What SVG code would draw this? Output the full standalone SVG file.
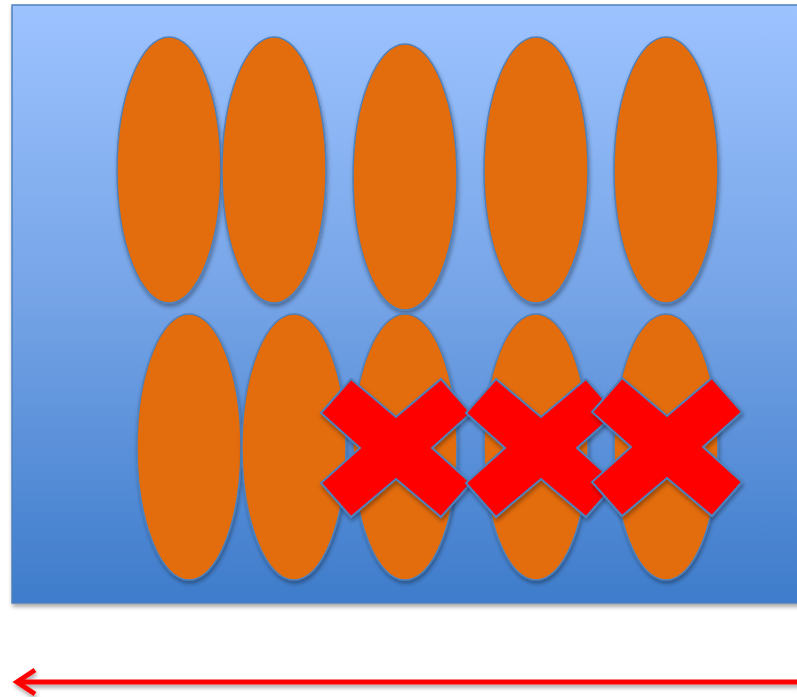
<svg xmlns="http://www.w3.org/2000/svg" width="797" height="697" viewBox="0 0 797 697">
<defs>
<linearGradient id="bg" x1="0" y1="0" x2="0" y2="1">
<stop offset="0" stop-color="#9dc3ff"/>
<stop offset="0.5" stop-color="#74a3e6"/>
<stop offset="1" stop-color="#3e7ccb"/>
</linearGradient>
<filter id="sh" x="-20%" y="-20%" width="140%" height="140%">
<feDropShadow dx="1" dy="3" stdDeviation="2" flood-color="#000" flood-opacity="0.35"/>
</filter>
<filter id="shl" filterUnits="userSpaceOnUse" x="0" y="655" width="797" height="42">
<feDropShadow dx="1" dy="3" stdDeviation="2" flood-color="#000" flood-opacity="0.35"/>
</filter>
</defs>
<style>
.ov{fill:#e36c0a;stroke:#4f81bd;stroke-width:1.5;filter:url(#sh)}
.x{fill:#ff0000;stroke:#4f81bd;stroke-width:2;filter:url(#sh)}
.ar{fill:none;stroke:#ff0000;stroke-width:5}
</style>
<rect id="panel" x="12" y="5" width="800" height="598" fill="url(#bg)" stroke="#4f81bd" stroke-width="1.5" filter="url(#sh)"/>
<g id="top-row">
<ellipse id="t1" class="ov" cx="169" cy="170" rx="52" ry="133"/>
<ellipse id="t2" class="ov" cx="274" cy="170" rx="52" ry="133"/>
<ellipse id="t3" class="ov" cx="405" cy="177" rx="52" ry="133"/>
<ellipse id="t4" class="ov" cx="536" cy="170" rx="52" ry="133"/>
<ellipse id="t5" class="ov" cx="666" cy="170" rx="52" ry="133"/>
</g>
<g id="bottom-row">
<ellipse id="b1" class="ov" cx="189" cy="447" rx="52" ry="133"/>
<ellipse id="b2" class="ov" cx="294" cy="447" rx="52" ry="133"/>
<ellipse id="b3" class="ov" cx="405" cy="447" rx="52" ry="133"/>
<ellipse id="b4" class="ov" cx="536" cy="447" rx="52" ry="133"/>
<ellipse id="b5" class="ov" cx="666" cy="447" rx="52" ry="133"/>
</g>
<g id="crosses">
<polygon id="x1" class="x" transform="translate(396,448)" points="-45,-69 0,-31 45,-69 75,-35 36,0 75,35 45,69 0,31 -45,69 -75,35 -36,0 -75,-35"/>
<polygon id="x2" class="x" transform="translate(541,448)" points="-45,-69 0,-31 45,-69 75,-35 36,0 75,35 45,69 0,31 -45,69 -75,35 -36,0 -75,-35"/>
<polygon id="x3" class="x" transform="translate(667,447)" points="-45,-69 0,-31 45,-69 75,-35 36,0 75,35 45,69 0,31 -45,69 -75,35 -36,0 -75,-35"/>
</g>
<g id="connectors" filter="url(#shl)">
<line class="ar" x1="800" y1="682" x2="18" y2="682"/>
<path class="ar" d="M35,670 L17,682 L35,694" stroke-linejoin="miter"/>
</g>
</svg>
